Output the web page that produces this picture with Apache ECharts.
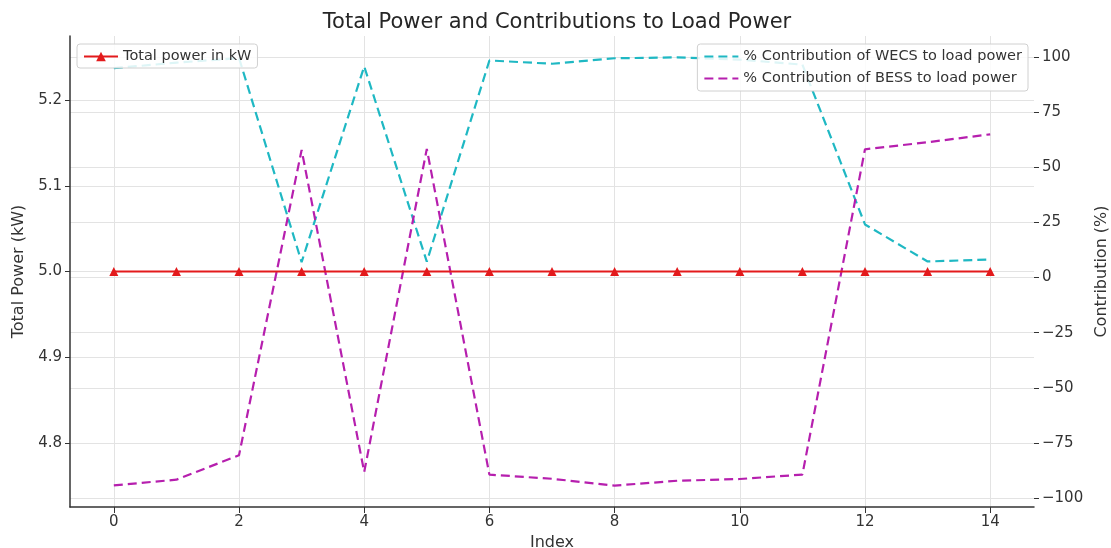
<!DOCTYPE html>
<html>
<head>
<meta charset="utf-8">
<script src="https://cdn.jsdelivr.net/npm/echarts@6/dist/echarts.min.js"></script>
<style>html,body{margin:0;padding:0;background:#fff}#c{width:1111px;height:548px}</style>
</head>
<body>
<div id="c"></div>
<script>
const indices = [0,1,2,3,4,5,6,7,8,9,10,11,12,13,14];
const totalPower = [5.0,5.0,5.0,5.0,5.0,5.0,5.0,5.0,5.0,5.0,5.0,5.0,5.0,5.0,5.0];
const wecsPct = [95.0,97.5,99.6,7.0,95.8,7.2,98.5,97.0,99.5,99.9,98.9,96.6,24.1,7.3,8.2];
const bessPct = [-94.3,-91.7,-80.6,57.9,-88.2,58.4,-89.4,-91.3,-94.4,-92.2,-91.4,-89.4,58.2,61.4,65.0];
const xTicks = [0,2,4,6,8,10,12,14];
const leftTicks = [4.8,4.9,5.0,5.1,5.2];
const rightTicks = [-100,-75,-50,-25,0,25,50,75,100];

const FONT = 'DejaVu Sans';
const gridColor = '#e3e3e3';
const chart = echarts.init(document.getElementById('c'), null, {renderer:'canvas'});
const pair = a => indices.map((x,i)=>[x,a[i]]);
chart.setOption({
  animation:false,
  textStyle:{fontFamily:FONT},
  title:{text:'Total Power and Contributions to Load Power',left:552,textAlign:'center',top:7,
    textStyle:{fontFamily:FONT,fontSize:21,fontWeight:'normal',color:'#262626'}},
  grid:{left:70,right:77,top:36,bottom:41,containLabel:false,outerBoundsMode:'none'},
  legend:[
    {left:77,top:44,data:['Total power in kW'],itemWidth:34,itemHeight:12,itemGap:8,
     padding:[5,6,4,6],backgroundColor:'rgba(255,255,255,0.85)',borderColor:'#d0d0d0',borderWidth:1,borderRadius:3,
     textStyle:{fontFamily:FONT,fontSize:14.5,color:'#333'}},
    {right:83,top:44,orient:'vertical',data:['% Contribution of WECS to load power','% Contribution of BESS to load power'],
     itemWidth:34,itemHeight:12,itemGap:7,padding:[5,6,5,6],backgroundColor:'rgba(255,255,255,0.85)',borderColor:'#d0d0d0',borderWidth:1,borderRadius:3,
     itemStyle:{opacity:0},
     textStyle:{fontFamily:FONT,fontSize:14.5,color:'#333'}}
  ],
  xAxis:{type:'value',min:-0.7,max:14.7,name:'Index',nameLocation:'middle',nameGap:22,
    nameTextStyle:{fontFamily:FONT,fontSize:16,color:'#333'},
    axisLine:{show:true,onZero:false,lineStyle:{color:'#333',width:1.5}},
    axisTick:{show:true,customValues:xTicks,length:6,lineStyle:{color:'#333'}},
    axisLabel:{customValues:xTicks,fontFamily:FONT,fontSize:15,color:'#333',margin:8},
    splitLine:{show:true,lineStyle:{color:gridColor,width:1}}},
  yAxis:[
    {type:'value',min:4.725,max:5.275,position:'left',name:'Total Power (kW)',nameLocation:'middle',nameGap:42,
     nameTextStyle:{fontFamily:FONT,fontSize:16,color:'#333'},
     axisLine:{show:true,onZero:false,lineStyle:{color:'#333',width:1.5}},
     axisTick:{show:true,customValues:leftTicks,length:5,lineStyle:{color:'#333'}},
     axisLabel:{customValues:leftTicks,formatter:v=>v.toFixed(1),fontFamily:FONT,fontSize:15,color:'#333',margin:8},
     splitLine:{show:true,lineStyle:{color:gridColor,width:1}}},
    {type:'value',min:-104.1,max:109.6,position:'right',name:'Contribution (%)',nameLocation:'middle',nameGap:56,
     nameTextStyle:{fontFamily:FONT,fontSize:16,color:'#333'},
     axisLine:{show:false,onZero:false},
     axisTick:{show:true,customValues:rightTicks,length:5,lineStyle:{color:'#333'}},
     axisLabel:{customValues:rightTicks,formatter:v=>String(v).replace('-','\u2212'),fontFamily:FONT,fontSize:15,color:'#333',margin:8},
     splitLine:{show:true,lineStyle:{color:gridColor,width:1}}}
  ],
  series:[
    {name:'Total power in kW',type:'line',yAxisIndex:0,data:pair(totalPower),symbol:'triangle',symbolSize:9,
     lineStyle:{color:'#e31a1c',width:2},itemStyle:{color:'#e31a1c'},z:5},
    {name:'% Contribution of WECS to load power',type:'line',yAxisIndex:1,data:pair(wecsPct),symbol:'none',
     lineStyle:{color:'#1fb8c3',width:2.2,type:[9,5]},itemStyle:{color:'#1fb8c3'}},
    {name:'% Contribution of BESS to load power',type:'line',yAxisIndex:1,data:pair(bessPct),symbol:'none',
     lineStyle:{color:'#b61fae',width:2.2,type:[9,5]},itemStyle:{color:'#b61fae'}}
  ]
});
</script>
</body>
</html>
